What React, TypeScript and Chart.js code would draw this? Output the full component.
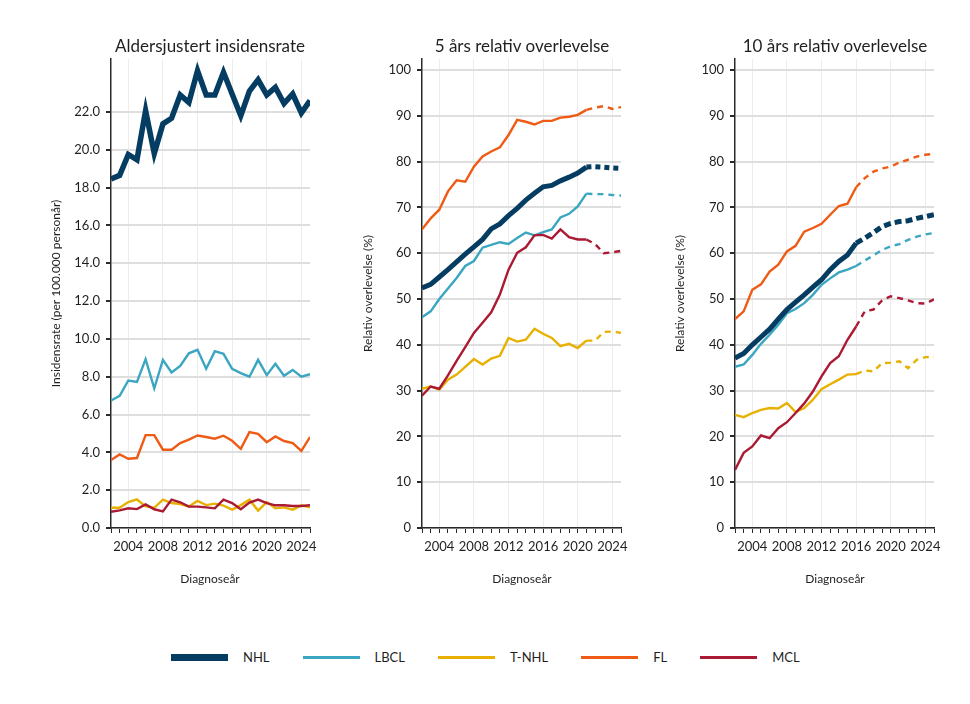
import React, { useEffect, useRef } from "react";
import { Chart, registerables } from "chart.js";

Chart.register(...registerables);

// Diagnosis years on the x axis
const years = [
  2002, 2003, 2004, 2005, 2006, 2007, 2008, 2009, 2010, 2011, 2012, 2013,
  2014, 2015, 2016, 2017, 2018, 2019, 2020, 2021, 2022, 2023, 2024, 2025,
];
const labelledYears = [2004, 2008, 2012, 2016, 2020, 2024];

// Age-adjusted incidence (per 100,000 person-years)
const incNHL = [18.45, 18.65, 19.75, 19.47, 22.07, 19.8, 21.37, 21.67, 22.9, 22.5, 24.18, 22.9, 22.9, 24.1, 22.95, 21.8, 23.1, 23.7, 22.9, 23.3, 22.45, 22.95, 21.95, 22.6];
const incLBCL = [6.74, 6.99, 7.8, 7.73, 8.93, 7.39, 8.89, 8.22, 8.57, 9.24, 9.42, 8.42, 9.35, 9.21, 8.42, 8.19, 8.0, 8.89, 8.08, 8.68, 8.05, 8.36, 8.0, 8.13];
const incTNHL = [1.07, 1.07, 1.37, 1.51, 1.14, 1.07, 1.5, 1.32, 1.27, 1.14, 1.43, 1.21, 1.29, 1.18, 0.97, 1.21, 1.5, 0.92, 1.37, 1.04, 1.09, 0.97, 1.2, 1.09];
const incFL = [3.59, 3.89, 3.66, 3.7, 4.91, 4.91, 4.14, 4.14, 4.49, 4.67, 4.89, 4.81, 4.72, 4.88, 4.61, 4.19, 5.07, 4.98, 4.54, 4.84, 4.6, 4.49, 4.08, 4.81];
const incMCL = [0.86, 0.93, 1.04, 1.0, 1.25, 0.99, 0.88, 1.5, 1.36, 1.13, 1.13, 1.09, 1.04, 1.5, 1.32, 0.99, 1.34, 1.5, 1.32, 1.2, 1.2, 1.16, 1.16, 1.2];

// 5-year relative survival (%), observed up to 2021, predicted after
const s5NHL = [52.4, 53.2, 54.8, 56.4, 58.1, 59.8, 61.4, 63.0, 65.3, 66.4, 68.2, 69.8, 71.6, 73.1, 74.5, 74.8, 75.8, 76.6, 77.5, 78.8, 78.9, 78.8, 78.6, 78.5];
const s5LBCL = [46.0, 47.3, 50.0, 52.3, 54.6, 57.2, 58.3, 61.2, 61.8, 62.4, 62.0, 63.3, 64.5, 63.9, 64.6, 65.2, 67.8, 68.6, 70.2, 73.0, 72.9, 72.9, 72.7, 72.6];
const s5TNHL = [30.4, 30.9, 30.2, 32.4, 33.5, 35.2, 36.9, 35.7, 37.0, 37.6, 41.5, 40.7, 41.1, 43.5, 42.4, 41.5, 39.7, 40.2, 39.3, 40.9, 40.9, 42.8, 42.9, 42.6];
const s5FL = [65.2, 67.6, 69.5, 73.5, 75.9, 75.6, 78.9, 81.1, 82.2, 83.1, 85.8, 89.1, 88.7, 88.1, 88.9, 88.9, 89.6, 89.8, 90.2, 91.3, 91.8, 92.1, 91.5, 91.9];
const s5MCL = [28.9, 30.9, 30.4, 33.3, 36.5, 39.5, 42.6, 44.8, 47.1, 51.0, 56.4, 60.1, 61.3, 63.9, 64.0, 63.2, 65.2, 63.5, 63.0, 63.0, 62.0, 60.0, 60.2, 60.5];

// 10-year relative survival (%), observed up to 2016, predicted after
const s10NHL = [37.1, 38.1, 40.0, 41.7, 43.4, 45.6, 47.7, 49.3, 50.9, 52.6, 54.2, 56.4, 58.2, 59.6, 62.2, 63.3, 64.5, 65.8, 66.5, 66.9, 67.1, 67.6, 68.0, 68.4];
const s10LBCL = [35.2, 35.7, 37.8, 40.2, 42.2, 44.4, 46.9, 47.8, 49.1, 50.9, 53.1, 54.5, 55.8, 56.4, 57.2, 58.4, 59.5, 60.7, 61.5, 62.0, 62.9, 63.6, 64.1, 64.4];
const s10TNHL = [24.7, 24.2, 25.1, 25.8, 26.2, 26.1, 27.3, 25.3, 26.2, 28.0, 30.3, 31.4, 32.4, 33.5, 33.6, 34.4, 34.2, 36.0, 36.1, 36.4, 34.9, 36.7, 37.3, 37.3];
const s10FL = [45.6, 47.3, 52.0, 53.2, 56.0, 57.5, 60.4, 61.6, 64.7, 65.5, 66.4, 68.4, 70.3, 70.8, 74.4, 76.4, 77.8, 78.5, 78.9, 79.8, 80.4, 81.1, 81.5, 81.7];
const s10MCL = [12.7, 16.4, 17.8, 20.2, 19.6, 21.8, 23.1, 25.1, 27.2, 29.8, 33.1, 36.0, 37.5, 41.1, 44.0, 47.3, 47.7, 49.7, 50.6, 50.2, 49.7, 49.1, 49.0, 49.9];

// Y axis tick values
const incTicks = [0, 2, 4, 6, 8, 10, 12, 14, 16, 18, 20, 22];
const survTicks = [0, 10, 20, 30, 40, 50, 60, 70, 80, 90, 100];

const FONT = "Lato, 'Noto Sans', sans-serif";
const TEXT = "#1f1f1f";

type Style = { label: string; color: string; width: number; dash: number[] };

const STYLES: Style[] = [
  { label: "NHL", color: "#043d61", width: 5, dash: [5, 4] },
  { label: "LBCL", color: "#3aa6c1", width: 2.4, dash: [6, 5] },
  { label: "T-NHL", color: "#e8b000", width: 2.4, dash: [6, 5] },
  { label: "FL", color: "#ef5a14", width: 2.4, dash: [6, 5] },
  { label: "MCL", color: "#ab1a33", width: 2.4, dash: [6, 5] },
];

type PanelProps = {
  left: number;
  series: number[][];
  yMax: number;
  yTicks: number[];
  decimals: number;
  cutoff: number | null;
  nhlWidth: number;
  nhlDash: number[];
  yTitle: string;
  yTitleOffset: number;
};

function Panel({
  left,
  series,
  yMax,
  yTicks,
  decimals,
  cutoff,
  nhlWidth,
  nhlDash,
  yTitle,
  yTitleOffset,
}: PanelProps) {
  const ref = useRef<HTMLCanvasElement>(null);

  useEffect(() => {
    if (!ref.current) return;
    const datasets = STYLES.map((st, i) => {
      const isNHL = st.label === "NHL";
      const dash = isNHL ? nhlDash : st.dash;
      return {
        label: st.label,
        data: years.map((yr, k) => ({ x: yr, y: series[i][k] })),
        borderColor: st.color,
        backgroundColor: st.color,
        borderWidth: isNHL ? nhlWidth : st.width,
        pointRadius: 0,
        tension: 0,
        fill: false,
        order: isNHL ? 0 : 5 - i,
        segment:
          cutoff === null
            ? undefined
            : {
                borderDash: (ctx: any) => (ctx.p0.parsed.x >= cutoff ? dash : undefined),
              },
      };
    });

    const chart = new Chart(ref.current, {
      type: "line",
      data: { datasets: datasets as any },
      options: {
        animation: false,
        responsive: false,
        maintainAspectRatio: false,
        layout: { padding: { top: 59, right: 20, bottom: 0, left: 0 } },
        plugins: {
          legend: { display: false },
          tooltip: { enabled: false },
        },
        scales: {
          x: {
            type: "linear",
            min: 2002,
            max: 2025,
            afterFit: (s: any) => {
              s.height = 72;
            },
            afterBuildTicks: (s: any) => {
              s.ticks = years.map((v) => ({ value: v }));
            },
            ticks: {
              autoSkip: false,
              maxRotation: 0,
              padding: 6,
              color: TEXT,
              font: { family: FONT, size: 13 },
              callback: (v: any) => (labelledYears.includes(Number(v)) ? String(v) : ""),
            },
            grid: {
              color: (ctx: any) =>
                ctx.tick && labelledYears.includes(ctx.tick.value) ? "#ececec" : "rgba(0,0,0,0)",
              lineWidth: 1,
              tickColor: "#2a2a2a",
              tickLength: 5,
              drawTicks: true,
            },
            border: { display: true, color: "#2a2a2a", width: 1.5 },
          },
          y: {
            type: "linear",
            min: 0,
            max: yMax,
            afterFit: (s: any) => {
              s.width = 111;
            },
            afterBuildTicks: (s: any) => {
              s.ticks = yTicks.map((v) => ({ value: v }));
            },
            title: {
              display: true,
              text: yTitle,
              color: TEXT,
              font: { family: FONT, size: 12, weight: "normal" },
              padding: { top: yTitleOffset, bottom: 0 },
            },
            ticks: {
              padding: 6,
              color: TEXT,
              font: { family: FONT, size: 13 },
              callback: (v: any) => Number(v).toFixed(decimals),
            },
            grid: {
              color: "#dedede",
              lineWidth: 2,
              tickColor: "#2a2a2a",
              tickLength: 5,
              drawTicks: true,
            },
            border: { display: true, color: "#2a2a2a", width: 1.5 },
          },
        },
      },
    });
    return () => chart.destroy();
  }, []);

  return (
    <canvas
      ref={ref}
      width={330}
      height={600}
      style={{ position: "absolute", left, top: 0, width: 330, height: 600 }}
    />
  );
}

const titleStyle = (cx: number): React.CSSProperties => ({
  position: "absolute",
  left: cx,
  top: 45,
  transform: "translate(-50%, -50%)",
  fontSize: 17,
  color: TEXT,
  whiteSpace: "nowrap",
});

const xTitleStyle = (cx: number): React.CSSProperties => ({
  position: "absolute",
  left: cx,
  top: 578,
  transform: "translate(-50%, -50%)",
  fontSize: 12,
  color: TEXT,
  whiteSpace: "nowrap",
});

export default function App() {
  return (
    <div
      style={{
        position: "absolute",
        left: 0,
        top: 0,
        width: 970,
        height: 704,
        background: "#ffffff",
        fontFamily: FONT,
        overflow: "hidden",
      }}
    >
      <Panel
        left={0}
        series={[incNHL, incLBCL, incTNHL, incFL, incMCL]}
        yMax={24.8}
        yTicks={incTicks}
        decimals={1}
        cutoff={null}
        nhlWidth={5.5}
        nhlDash={[]}
        yTitle="Insidensrate (per 100.000 personår)"
        yTitleOffset={49}
      />
      <Panel
        left={311}
        series={[s5NHL, s5LBCL, s5TNHL, s5FL, s5MCL]}
        yMax={102.4}
        yTicks={survTicks}
        decimals={0}
        cutoff={2021}
        nhlWidth={5}
        nhlDash={[5, 4]}
        yTitle="Relativ overlevelse (%)"
        yTitleOffset={50}
      />
      <Panel
        left={624}
        series={[s10NHL, s10LBCL, s10TNHL, s10FL, s10MCL]}
        yMax={102.4}
        yTicks={survTicks}
        decimals={0}
        cutoff={2016}
        nhlWidth={5}
        nhlDash={[7, 4]}
        yTitle="Relativ overlevelse (%)"
        yTitleOffset={49}
      />

      <div style={titleStyle(210)}>Aldersjustert insidensrate</div>
      <div style={titleStyle(522)}>5 års relativ overlevelse</div>
      <div style={titleStyle(835)}>10 års relativ overlevelse</div>

      <div style={xTitleStyle(210)}>Diagnoseår</div>
      <div style={xTitleStyle(522)}>Diagnoseår</div>
      <div style={xTitleStyle(835)}>Diagnoseår</div>

      <div
        style={{
          position: "absolute",
          left: 171,
          top: 657,
          transform: "translateY(-50%)",
          display: "flex",
          alignItems: "center",
          gap: 33,
          fontSize: 13,
          color: TEXT,
        }}
      >
        {STYLES.map((st) => (
          <div key={st.label} style={{ display: "flex", alignItems: "center", gap: 15 }}>
            <div
              style={{
                width: 57,
                height: st.label === "NHL" ? 7 : 3,
                background: st.color,
              }}
            />
            <span>{st.label}</span>
          </div>
        ))}
      </div>
    </div>
  );
}
